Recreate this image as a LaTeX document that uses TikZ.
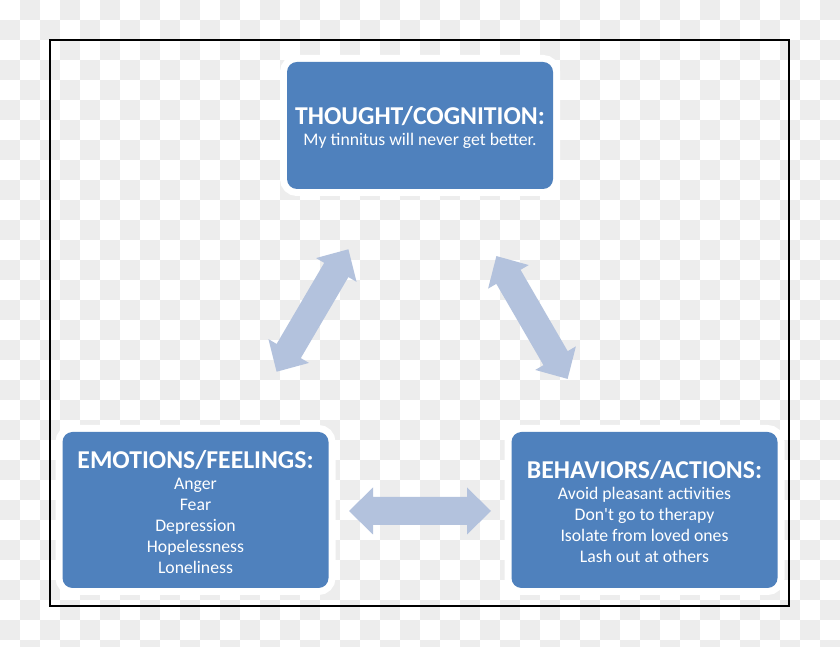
\documentclass[tikz,border=0pt]{standalone}
\usepackage{fontspec}
\setmainfont{Carlito}
\definecolor{boxblue}{HTML}{4F81BD}
\definecolor{arrowblue}{HTML}{B3C2DD}
\definecolor{checker}{HTML}{EDEDED}
\tikzset{
  box/.style={rectangle, rounded corners=10pt, fill=boxblue,
    preaction={draw=white, line width=14pt},
    text=white, align=center, inner sep=0pt,
    minimum width=266pt, font=\fontsize{17.7}{21}\selectfont},
  dblarrow/.pic={\fill[arrowblue] (-71,0) -- (-47,23.5) -- (-47,14) -- (47,14) -- (47,23.5)
     -- (71,0) -- (47,-23.5) -- (47,-14) -- (-47,-14) -- (-47,-23.5) -- cycle;}
}
\newcommand{\boxhead}[1]{{\fontsize{25.7}{21}\selectfont\bfseries\rule{0pt}{22pt}#1}}
\begin{document}
\begin{tikzpicture}[x=1pt,y=1pt]
\useasboundingbox (0,0) rectangle (840,647);
\clip (0,0) rectangle (840,647);
\fill[white] (0,0) rectangle (840,647);
\foreach \i in {0,...,41}{\foreach \j in {0,...,32}{%
  \ifodd\numexpr\i+\j\relax \fill[checker] (\i*20,647-\j*20) rectangle ++(20,-20);\fi}}
\draw[line width=1.5pt] (50,607) rectangle (789,41);

\node[box, minimum height=127pt] (thought) at (420,521.5)
  {\boxhead{THOUGHT/COGNITION:}\\My tinnitus will never get better.};
\node[box, minimum height=156pt] (emotions) at (195.5,137)
  {\boxhead{EMOTIONS/FEELINGS:}\\Anger\\Fear\\Depression\\Hopelessness\\Loneliness};
\node[box, minimum height=156pt] (behaviors) at (644.5,137)
  {\boxhead{BEHAVIORS/ACTIONS:}\\Avoid pleasant activities\\Don\textquotesingle t go to therapy\\Isolate from loved ones\\Lash out at others};

\pic[rotate=59.6] (ta) at (312.5,336.5) {dblarrow};
\pic[rotate=-59.9] (tb) at (532,329.5) {dblarrow};
\pic (eb) at (420,136) {dblarrow};
\end{tikzpicture}
\end{document}
